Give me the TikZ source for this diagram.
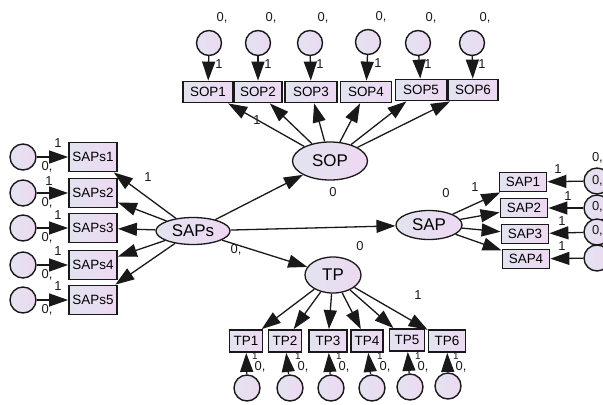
\documentclass[tikz,border=0pt]{standalone}
\usepackage{fontspec}
\setmainfont{Liberation Sans}
\usetikzlibrary{arrows.meta,shapes.geometric}
\definecolor{lavL}{RGB}{226,228,240}
\definecolor{lavR}{RGB}{238,216,242}
\definecolor{ink}{RGB}{25,25,25}
\begin{document}
\begin{tikzpicture}[x=1bp,y=-1bp,
  lat/.style={ellipse, draw=ink, line width=1.3bp, left color=lavL, right color=lavR, inner sep=0pt, font=\fontsize{17}{17}\selectfont},
  obs/.style={rectangle, draw=ink, line width=1.8bp, left color=lavL, right color=lavR, inner sep=0pt, minimum height=20bp, font=\fontsize{13.5}{13.5}\selectfont},
  err/.style={circle, draw=ink, line width=1.4bp, left color=lavL, right color=lavR, inner sep=0pt, minimum size=25bp},
  arr/.style={draw=ink, line width=1.3bp, -{Triangle[length=19bp,width=13bp]}},
  lbl/.style={inner sep=0pt, font=\fontsize{13}{13}\selectfont, text=ink}]
\useasboundingbox (0,0) rectangle (603,404);

% latent variables
\node[lat, minimum width=75bp, minimum height=38bp] (SOP) at (330,161) {SOP};
\node[lat, minimum width=74bp, minimum height=27bp] (SAPs) at (193,231) {SAPs};
\node[lat, minimum width=66bp, minimum height=29bp] (SAP) at (429,225) {SAP};
\node[lat, minimum width=56bp, minimum height=36bp] (TP) at (333,275) {TP};

% SOP indicators
\node[obs, minimum width=50bp, minimum height=21bp] (sop1) at (208,92) {SOP1};
\node[obs, minimum width=48bp, minimum height=21bp] (sop2) at (258,92) {SOP2};
\node[obs, minimum width=52bp, minimum height=21bp] (sop3) at (311,92) {SOP3};
\node[obs, minimum width=51bp, minimum height=21bp] (sop4) at (366,92) {SOP4};
\node[obs, minimum width=51bp, minimum height=21bp] (sop5) at (421,90) {SOP5};
\node[obs, minimum width=50bp, minimum height=21bp] (sop6) at (473,90) {SOP6};
\foreach \i/\x/\y in {1/209/43,2/258/43,3/310/43,4/368/42,5/418/43,6/472/43}{
  \node[err] (es\i) at (\x,\y) {};
  \draw[arr] (es\i) -- (sop\i);
  \node[lbl] at (\x+13,\y-25) {0,};
  \node[lbl] at (\x+10,\y+21) {1};
}

% SAPs indicators
\foreach \i/\y in {1/157,2/193,3/228,4/265,5/300}{
  \node[obs, minimum width=48bp, minimum height=29bp] (saps\i) at (93,\y) {SAPs\i};
  \node[err, minimum size=26bp] (ea\i) at (23,\y) {};
  \draw[arr] (ea\i) -- (saps\i);
  \draw[arr] (SAPs) -- (saps\i);
  \node[lbl] at (47,\y+10) {0,};
}
\node[lbl] at (58,143) {1};
\node[lbl] at (49,181) {1};
\node[lbl] at (58,215) {1};
\node[lbl] at (58,251) {1};
\node[lbl] at (58,286) {1};
\node[lbl] at (148,177) {1};

% SAP indicators
\node[obs, minimum width=47bp, minimum height=19bp] (sap1) at (523,182) {SAP1};
\node[obs, minimum width=47bp, minimum height=19bp] (sap2) at (524,208) {SAP2};
\node[obs, minimum width=47bp, minimum height=19bp] (sap3) at (525,234) {SAP3};
\node[obs, minimum width=47bp, minimum height=19bp] (sap4) at (526,259) {SAP4};
\foreach \i/\y in {1/181,2/208,3/232,4/258}{
  \node[err, minimum size=26bp] (ep\i) at (597,\y) {};
  \draw[arr] (ep\i) -- (sap\i);
  \draw[arr] (SAP) -- (sap\i);
}
\node[lbl, anchor=east] at (603,158) {0,};
\node[lbl, anchor=east] at (603,181) {0,};
\node[lbl, anchor=east] at (603,207) {0,};
\node[lbl, anchor=east] at (603,231) {0,};
\node[lbl] at (558,169) {1};
\node[lbl] at (568,196) {1};
\node[lbl] at (562,221) {1};
\node[lbl] at (562,246) {1};
\node[lbl] at (475,187) {1};
\node[lbl] at (446,193) {0};

% TP indicators
\node[obs, minimum width=33bp, minimum height=22bp] (tp1) at (246,341) {TP1};
\node[obs, minimum width=33bp, minimum height=22bp] (tp2) at (285,341) {TP2};
\node[obs, minimum width=38bp, minimum height=22bp] (tp3) at (328,341) {TP3};
\node[obs, minimum width=32bp, minimum height=22bp] (tp4) at (367,341) {TP4};
\node[obs, minimum width=35bp, minimum height=22bp] (tp5) at (407,340) {TP5};
\node[obs, minimum width=37bp, minimum height=22bp] (tp6) at (447,341) {TP6};
\foreach \i/\x/\y in {1/247/388,2/290/388,3/331/388,4/372/388,5/410/387,6/448/386}{
  \node[err, minimum size=26bp] (et\i) at (\x,\y) {};
  \draw[arr] (et\i) -- (tp\i);
  \draw[arr] (TP) -- (tp\i);
  \node[lbl, font=\fontsize{10}{10}\selectfont] at (\x+8,356) {1};
  \node[lbl] at (\x+13,367) {0,};
}
\node[lbl] at (418,295) {1};
\node[lbl] at (360,246) {0};

% structural paths
\draw[arr] (SAPs) -- (SOP);
\draw[arr] (SAPs) -- (SAP);
\draw[arr] (SAPs) -- (TP);
\foreach \i in {1,...,6}{\draw[arr] (SOP) -- (sop\i);}
\node[lbl] at (257,120) {1};
\node[lbl] at (333,192) {0};
\node[lbl] at (236,250) {0,};
\end{tikzpicture}
\end{document}
